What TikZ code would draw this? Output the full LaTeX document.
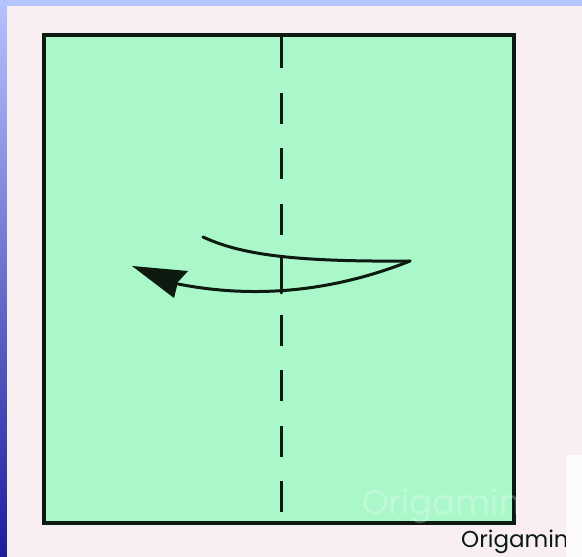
\documentclass[tikz,border=0pt]{standalone}
\usepackage{fontspec}
\setmainfont{Poppins}
\definecolor{paper}{HTML}{AAF8C9}
\definecolor{ink}{HTML}{0C1A10}
\definecolor{panel}{HTML}{F9EFF3}
\definecolor{bluetop}{HTML}{B4C4FF}
\definecolor{bluebot}{HTML}{1C1C9C}
\begin{document}
\begin{tikzpicture}[x=1pt,y=-1pt,
  foldline/.style={ink,line width=3pt,dash pattern=on 31pt off 24.5pt},
  arrowline/.style={ink,line width=3pt,line cap=round},
  border/.style={draw=ink,line width=4pt,fill=paper}]
\useasboundingbox (0,0) rectangle (582,557);
% background
\shade[top color=bluetop,bottom color=bluebot] (0,0) rectangle (582,557);
\fill[bluetop] (0,0) rectangle (582,6);
\fill[panel] (7,6) rectangle (582,557);
% paper square
\draw[border] (44,35) rectangle (514,523);
% watermark
\node[text=white,opacity=0.25,font=\fontsize{34}{34}\selectfont,anchor=base west,inner sep=0pt] (wm) at (362,514) {Origamin};
% fold line
\draw[foldline] (281,37) -- (281,515);
\draw[arrowline] (281,258) -- (281,293);
% arrow curves
\draw[arrowline] (203,237) .. controls (240,254) and (290,262) .. (410,261);
\draw[arrowline] (410,261) .. controls (350,285) and (270,302) .. (178,284);
\fill[ink] (132,266) -- (188,271) -- (178,282) -- (174,298) -- cycle;
% caption
\node[font=\fontsize{23}{23}\selectfont,anchor=base west,inner sep=0pt,text=ink] (cap) at (461,547) {Origamin};
\fill[white!70!panel] (566,455) rectangle (582,557);
\end{tikzpicture}
\end{document}
